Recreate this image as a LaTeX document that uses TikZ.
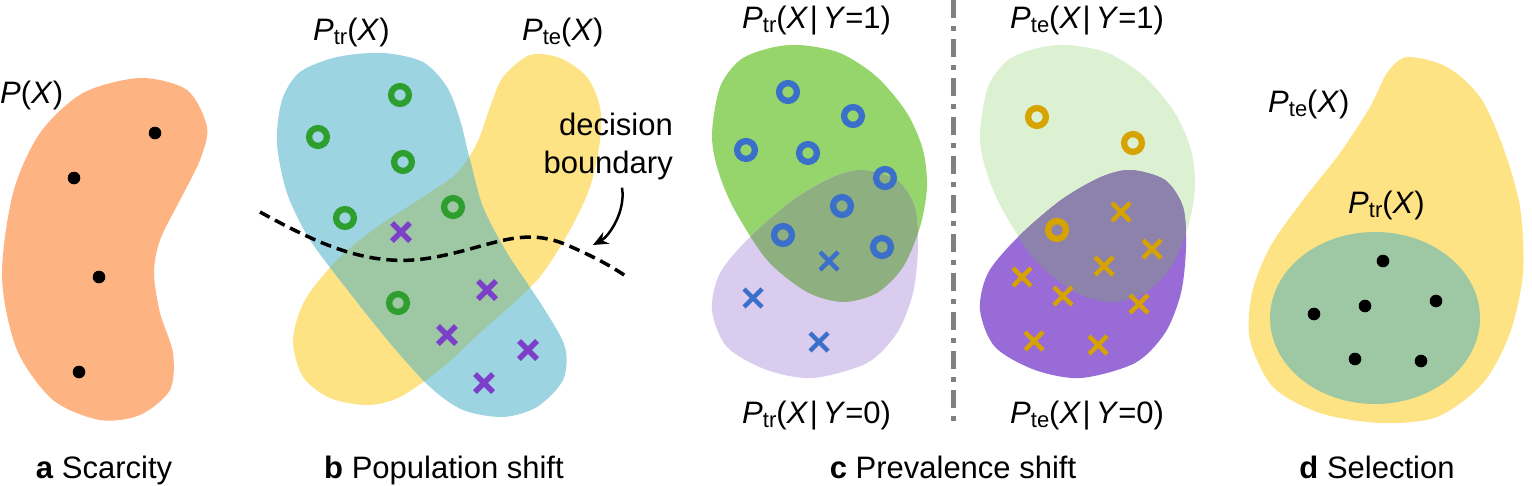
\documentclass[tikz,border=0pt]{standalone}
\usepackage{fontspec}
\setmainfont{Liberation Sans}
\usetikzlibrary{arrows.meta}
\definecolor{corange}{HTML}{FDB382}
\definecolor{cblue}{HTML}{9DD4E2}
\definecolor{cyellow}{HTML}{FEE385}
\definecolor{covb}{HTML}{9EC7A4}
\definecolor{cgreenmk}{HTML}{2E9F2E}
\definecolor{cpurmk}{HTML}{7B3FC9}
\definecolor{cgreen}{HTML}{95D56B}
\definecolor{clav}{HTML}{DACCEF}
\definecolor{covl}{HTML}{8EAF80}
\definecolor{cbluemk}{HTML}{3A70C9}
\definecolor{cltgreen}{HTML}{DCF1D2}
\definecolor{cpurple}{HTML}{996BD6}
\definecolor{covr}{HTML}{8D82AB}
\definecolor{cgold}{HTML}{D6A300}
\definecolor{cgray}{HTML}{808080}
\newcommand\PX[1]{\textit{P}\raisebox{-4pt}{\fontsize{22}{22}\selectfont #1}}
\newcommand\xm[3]{\draw[#1] (#2-9,#3-9) -- (#2+9,#3+9) (#2-9,#3+9) -- (#2+9,#3-9);}
\newcommand\om[3]{\draw[#1] (#2,#3) circle[radius=8.9];}
\newcommand\dt[2]{\fill (#1,#2) circle[radius=6.3];}
\newcommand\cnd[1]{(\textit{X}\kern1.5pt|\kern5pt\textit{Y}=#1)}
% blob paths
\def\blobA{plot[smooth cycle] coordinates {(140,78) (187,90) (207,127) (200,160) (180,200) (160,240) (154,273) (160,313) (173,353) (170,390) (140,415) (100,420) (53,400) (17,350) (2,277) (13,193) (40,133) (83,93)}}
\def\blobBlue{plot[smooth cycle] coordinates {(277,143) (282,100) (300,72) (337,57) (383,53) (423,62) (447,87) (460,120) (470,160) (483,207) (507,253) (543,307) (565,347) (563,380) (537,407) (503,417) (463,410) (430,387) (390,343) (350,293) (310,240) (287,193)}}
\def\blobYel{plot[smooth cycle] coordinates {(530,55) (560,58) (587,77) (600,107) (600,140) (590,187) (570,230) (543,273) (517,300) (483,330) (443,367) (400,397) (367,405) (330,398) (303,377) (293,340) (305,300) (337,260) (377,227) (423,197) (457,173) (477,143) (490,107) (503,77)}}
\def\blobG#1{plot[smooth cycle] coordinates {(712+#1,133) (720+#1,87) (740+#1,60) (770+#1,48) (800+#1,45) (840+#1,53) (877+#1,77) (907+#1,113) (923+#1,150) (927+#1,187) (920+#1,227) (903+#1,267) (877+#1,293) (843+#1,302) (807+#1,292) (767+#1,260) (733+#1,207) (717+#1,167)}}
\def\blobL#1{plot[smooth cycle] coordinates {(863+#1,170) (897+#1,180) (915+#1,207) (918+#1,247) (913+#1,293) (897+#1,333) (867+#1,363) (813+#1,378) (767+#1,370) (727+#1,347) (712+#1,310) (720+#1,273) (750+#1,237) (793+#1,200) (833+#1,177)}}
\def\blobD{plot[smooth cycle] coordinates {(1407,57) (1447,67) (1480,97) (1503,147) (1520,207) (1523,273) (1510,333) (1483,383) (1437,417) (1380,423) (1320,413) (1273,387) (1250,340) (1252,293) (1270,247) (1303,200) (1340,153) (1370,107) (1387,73)}}
\begin{document}
\begin{tikzpicture}[x=1pt,y=-1pt,
  lbl/.style={inner sep=0pt,font=\fontsize{31}{31}\selectfont},
  ringb/.style={cgreenmk,line width=6.3pt},
  crossb/.style={cpurmk,line width=5.5pt},
  ringc/.style={line width=6.3pt},
  crossc/.style={line width=4.5pt}]
\useasboundingbox (0,0) rectangle (1532,485);
% ---------- panel a
\fill[corange] \blobA;
\dt{155}{133}\dt{74}{178}\dt{99}{277}\dt{79}{372}
\node[lbl,anchor=base west] (pa) at (0,103) {\textit{P}(\textit{X})};
% ---------- panel b
\fill[cyellow] \blobYel;
\fill[cblue] \blobBlue;
\begin{scope}
\clip \blobYel;
\fill[covb] \blobBlue;
\end{scope}
\om{ringb}{400}{95}\om{ringb}{318}{137}\om{ringb}{403}{162}
\om{ringb}{453}{207}\om{ringb}{345}{218}\om{ringb}{398}{303}
\xm{crossb}{401}{232}\xm{crossb}{487}{290}\xm{crossb}{447}{335}
\xm{crossb}{528}{350}\xm{crossb}{484}{383}
\draw[line width=3.5pt,dash pattern=on 11pt off 6pt] (260,212) .. controls (320,245) and (370,268) .. (430,258) .. controls (490,248) and (520,225) .. (567,245) .. controls (590,255) and (610,265) .. (627,277);
\node[lbl,anchor=base west] (pbtr) at (313,40) {\PX{tr}(\textit{X})};
\node[lbl,anchor=base west] (pbte) at (522,40) {\PX{te}(\textit{X})};
\node[lbl,anchor=base east] (dec1) at (673,135) {decision};
\node[lbl,anchor=base east] (dec2) at (673,173) {boundary};
\coordinate (arrtip) at (593,245);
\draw[line width=2.5pt,-{Stealth[length=15pt,width=13pt]}] (dec2.south east) ++(-51,8) .. controls +(4,25) and +(15,-8) .. (arrtip);
% ---------- panel c
\fill[cgreen] \blobG{0};
\fill[clav] \blobL{0};
\begin{scope}
\clip \blobG{0};
\fill[covl] \blobL{0};
\end{scope}
\fill[cltgreen] \blobG{268};
\fill[cpurple] \blobL{268};
\begin{scope}
\clip \blobG{268};
\fill[covr] \blobL{268};
\end{scope}
\om{ringc,cbluemk}{788}{92}\om{ringc,cbluemk}{853}{116}\om{ringc,cbluemk}{746}{150}
\om{ringc,cbluemk}{808}{153}\om{ringc,cbluemk}{885}{178}\om{ringc,cbluemk}{842}{206}
\om{ringc,cbluemk}{783}{235}\om{ringc,cbluemk}{882}{247}
\xm{crossc,cbluemk}{829}{261}\xm{crossc,cbluemk}{753}{298}\xm{crossc,cbluemk}{819}{342}
\om{ringc,cgold}{1037}{117}\om{ringc,cgold}{1133}{143}\om{ringc,cgold}{1057}{230}
\xm{crossc,cgold}{1121}{212}\xm{crossc,cgold}{1152}{249}\xm{crossc,cgold}{1104}{266}
\xm{crossc,cgold}{1022}{277}\xm{crossc,cgold}{1063}{296}\xm{crossc,cgold}{1139}{304}
\xm{crossc,cgold}{1034}{341}\xm{crossc,cgold}{1098}{345}
\coordinate (septop) at (953,0);
\coordinate (sepbot) at (953,423);
\draw[cgray,line width=5pt,dash pattern=on 18pt off 8pt on 5pt off 8pt] (septop) -- (sepbot);
\node[lbl,anchor=base west] (pc1) at (742,28) {\PX{tr}\cnd{1}};
\node[lbl,anchor=base west] (pc2) at (1010,28) {\PX{te}\cnd{1}};
\node[lbl,anchor=base west] (pc3) at (742,423) {\PX{tr}\cnd{0}};
\node[lbl,anchor=base west] (pc4) at (1010,423) {\PX{te}\cnd{0}};
% ---------- panel d
\fill[cyellow] \blobD;
\fill[covb] (1375,318) ellipse[x radius=105,y radius=86];
\dt{1383}{261}\dt{1365}{306}\dt{1436}{301}\dt{1314}{314}\dt{1355}{359}\dt{1421}{361}
\node[lbl,anchor=base west] (pdte) at (1268,112) {\PX{te}(\textit{X})};
\node[lbl,anchor=base west] (pdtr) at (1348,213) {\PX{tr}(\textit{X})};
% ---------- captions
\node[lbl,anchor=base] (ca) at (104,478) {\textbf{a} Scarcity};
\node[lbl,anchor=base] (cb) at (444,478) {\textbf{b} Population shift};
\node[lbl,anchor=base] (cc) at (953,478) {\textbf{c} Prevalence shift};
\node[lbl,anchor=base] (cd) at (1377,478) {\textbf{d} Selection};
\end{tikzpicture}
\end{document}
